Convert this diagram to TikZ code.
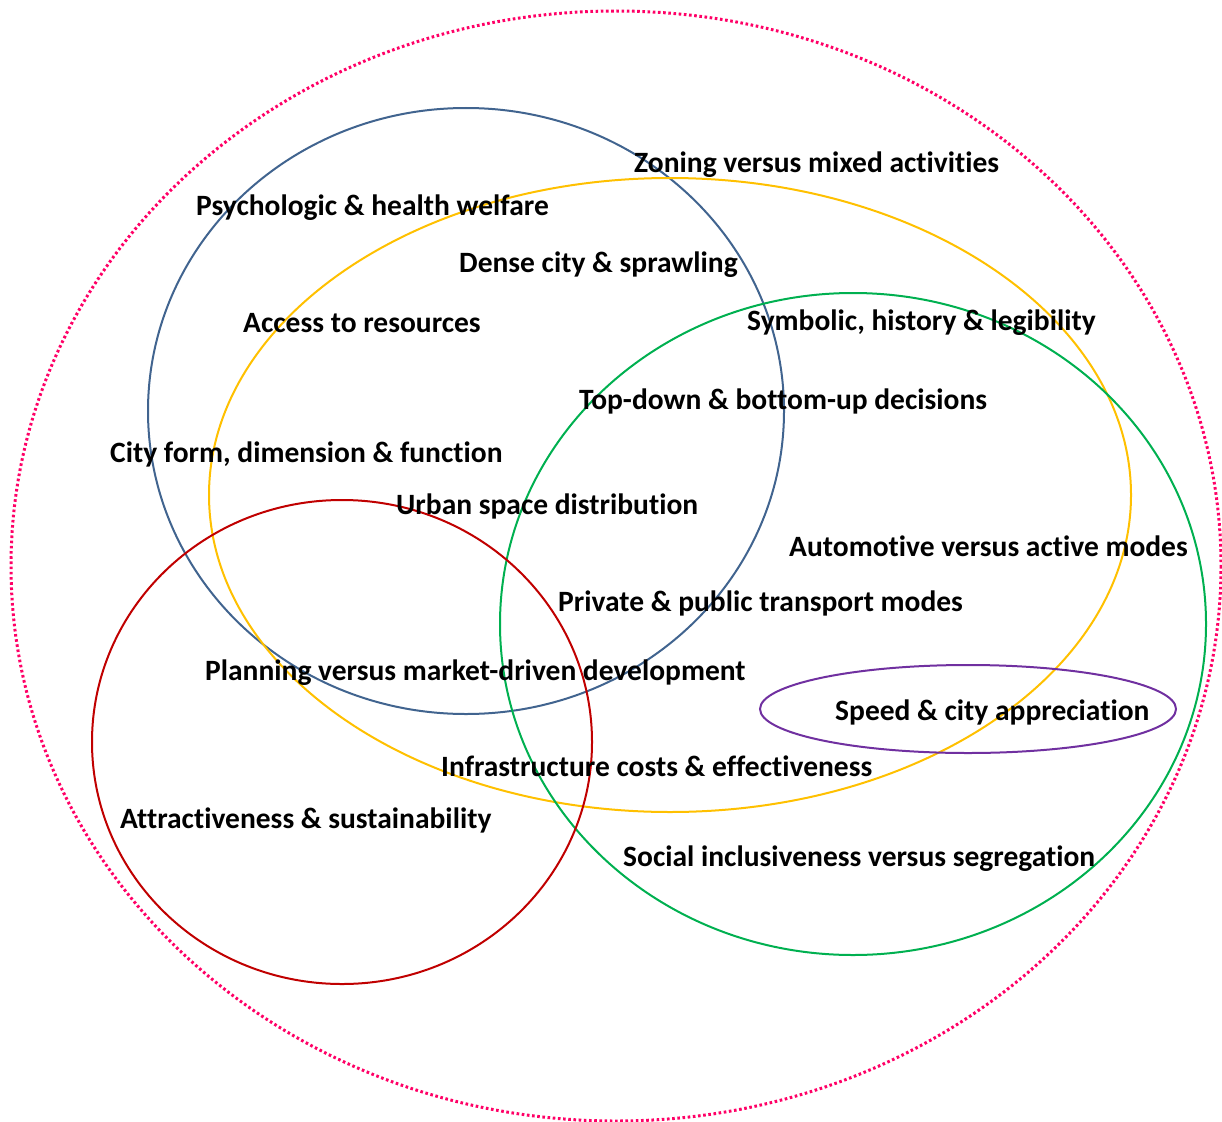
\documentclass[tikz,border=0pt]{standalone}
\usepackage{fontspec}
\setmainfont[Ligatures=NoCommon]{Carlito}
\definecolor{ringpink}{HTML}{FF0066}
\definecolor{ringblue}{HTML}{41648F}
\definecolor{ringyellow}{HTML}{FFC000}
\definecolor{ringgreen}{HTML}{00B050}
\definecolor{ringred}{HTML}{C00000}
\definecolor{ringpurple}{HTML}{7030A0}
\tikzset{
  ring/.style={line width=2pt},
  topic/.style={anchor=base west, inner sep=0pt, font=\bfseries\fontsize{29.5}{33}\selectfont}
}
\begin{document}
\begin{tikzpicture}[x=1pt,y=-1pt]
\useasboundingbox (0,0) rectangle (1222,1121);
% outer frame of all topics
\draw[ringpink, line width=3pt, dash pattern=on 2.6pt off 2.6pt] (616,566) ellipse [x radius=605, y radius=555];
% thematic sets
\draw[ring, ringblue]   (466,411) ellipse [x radius=318, y radius=303];
\draw[ring, ringyellow] (670,495) ellipse [x radius=461, y radius=317];
\draw[ring, ringgreen]  (853,624) ellipse [x radius=353, y radius=331];
\draw[ring, ringred]    (342,742) ellipse [x radius=250, y radius=242];
\draw[ring, ringpurple] (968,709) ellipse [x radius=208, y radius=44];
% topics
\node[topic] (t1)  at (634,172) {Zoning versus mixed activities};
\node[topic] (t2)  at (196,215) {Psychologic \& health welfare};
\node[topic] (t3)  at (459,272) {Dense city \& sprawling};
\node[topic] (t4)  at (243,332) {Access to resources};
\node[topic] (t5)  at (747,330) {Symbolic, history \& legibility};
\node[topic] (t6)  at (579,409) {Top-down \& bottom-up decisions};
\node[topic] (t7)  at (110,462) {City form, dimension \& function};
\node[topic] (t8)  at (396,514) {Urban space distribution};
\node[topic] (t9)  at (789,556) {Automotive versus active modes};
\node[topic] (t10) at (558,611) {Private \& public transport modes};
\node[topic] (t11) at (205,680) {Planning versus market-driven development};
\node[topic] (t12) at (835,720) {Speed \& city appreciation};
\node[topic] (t13) at (441,776) {Infrastructure costs \& effectiveness};
\node[topic] (t14) at (120,828) {Attractiveness \& sustainability};
\node[topic] (t15) at (623,866) {Social inclusiveness versus segregation};
\end{tikzpicture}
\end{document}
